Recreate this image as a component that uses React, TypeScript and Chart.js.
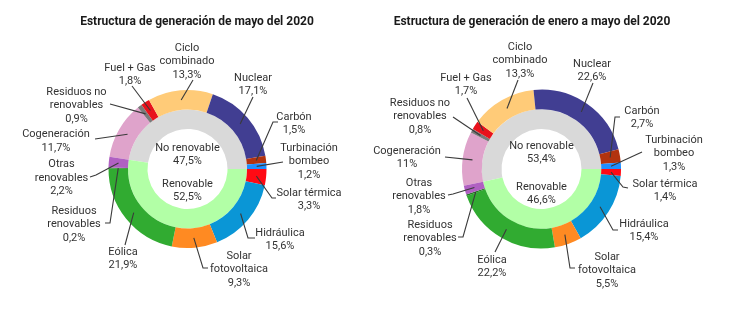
import React, { useEffect, useRef } from "react";
import { Chart, registerables } from "chart.js";

Chart.register(...registerables);

// ---------- data ----------
const categories = [
  "Cogeneración",
  "Residuos no renovables",
  "Fuel + Gas",
  "Ciclo combinado",
  "Nuclear",
  "Carbón",
  "Turbinación bombeo",
  "Solar térmica",
  "Hidráulica",
  "Solar fotovoltaica",
  "Eólica",
  "Residuos renovables",
  "Otras renovables",
];
const categoryLines = [
  ["Cogeneración"],
  ["Residuos no", "renovables"],
  ["Fuel + Gas"],
  ["Ciclo", "combinado"],
  ["Nuclear"],
  ["Carbón"],
  ["Turbinación", "bombeo"],
  ["Solar térmica"],
  ["Hidráulica"],
  ["Solar", "fotovoltaica"],
  ["Eólica"],
  ["Residuos", "renovables"],
  ["Otras", "renovables"],
];
const mayValues = [11.7, 0.9, 1.8, 13.3, 17.1, 1.5, 1.2, 3.3, 15.6, 9.3, 21.9, 0.2, 2.2];
const janMayValues = [11, 0.8, 1.7, 13.3, 22.6, 2.7, 1.3, 1.4, 15.4, 5.5, 22.2, 0.3, 1.8];
const groups = ["No renovable", "Renovable"];
const mayGroupValues = [47.5, 52.5];
const janMayGroupValues = [53.4, 46.6];
const titles = [
  "Estructura de generación de mayo del 2020",
  "Estructura de generación de enero a mayo del 2020",
];

// ---------- styles ----------
const categoryColors = [
  "#DFA3CB", "#7A7A7A", "#E8121C", "#FFCB78", "#413E92", "#B2330F", "#1E8EFF",
  "#FF0A14", "#0A96D6", "#FF8A22", "#31AB31", "#1F7A1F", "#B060C2",
];
const groupColors = ["#D9D9D9", "#B2FFA6"];

const W = 744;
const H = 326;
const PANEL_W = 372;

type LabelLayout = { text: [number, number]; path: [number, number][] };
type Panel = {
  offsetX: number;
  center: [number, number];
  radius: number;
  hole: number;
  titlePos: [number, number];
  innerOffsets: number[];
  values: number[];
  groupValues: number[];
  title: string;
  labels: LabelLayout[];
};

const panels: Panel[] = [
  {
    offsetX: 0,
    center: [187.5, 169],
    radius: 79,
    hole: 40,
    titlePos: [197, 22],
    innerOffsets: [-21, -8, 15, 28],
    values: mayValues,
    groupValues: mayGroupValues,
    title: titles[0],
    labels: [
      { text: [56, 134.5], path: [[95, 139]] },
      { text: [76.5, 92], path: [[110, 104]] },
      { text: [130, 68], path: [[132, 86]] },
      { text: [187, 48], path: [[193, 80]] },
      { text: [253, 78], path: [[253, 97]] },
      { text: [294, 117], path: [[273, 122], [278, 122]] },
      { text: [309, 148], path: [[283, 162]] },
      { text: [309, 193], path: [[272, 198], [276, 198]] },
      { text: [280, 233], path: [[248, 238], [255, 238]] },
      { text: [239, 256], path: [[203, 268], [208, 268]] },
      { text: [123, 252], path: [[125, 245]] },
      { text: [74, 211], path: [[110, 223], [105, 223]] },
      { text: [61.5, 164.5], path: [[96, 175], [90, 177]] },
    ],
  },
  {
    offsetX: 372,
    center: [541.5, 169],
    radius: 79.5,
    hole: 40,
    titlePos: [532, 22],
    innerOffsets: [-23, -10, 18, 31],
    values: janMayValues,
    groupValues: janMayGroupValues,
    title: titles[1],
    labels: [
      { text: [407, 151], path: [[445, 157]] },
      { text: [420, 103], path: [[453, 117]] },
      { text: [466, 78], path: [[467, 98]] },
      { text: [520, 47], path: [[518, 80]] },
      { text: [592, 64], path: [[593, 83]] },
      { text: [642, 111], path: [[615, 117], [620, 117]] },
      { text: [674, 140], path: [[642, 152]] },
      { text: [665, 184], path: [[623, 187], [628, 188]] },
      { text: [644, 224], path: [[613, 230], [618, 230]] },
      { text: [607, 257], path: [[570, 268], [575, 268]] },
      { text: [492, 260], path: [[495, 252]] },
      { text: [430, 225], path: [[463, 237], [458, 237]] },
      { text: [419, 183], path: [[453, 194], [448, 195]] },
    ],
  },
];

const FONT = "Roboto, 'Noto Sans', sans-serif";
const TEXT_COLOR = "#333333";
const LINE_H = 13.4;

function fmt(v: number): string {
  return String(v).replace(".", ",") + "%";
}

function drawAnnotations(chart: any, p: Panel) {
  const ctx: CanvasRenderingContext2D = chart.ctx;
  const ox = p.offsetX;
  ctx.save();
  ctx.textAlign = "center";
  ctx.textBaseline = "middle";

  // title
  ctx.font = `bold 12px ${FONT}`;
  ctx.fillStyle = "#1a1a1a";
  ctx.fillText(p.title, p.titlePos[0] - ox, p.titlePos[1]);

  // inner group labels
  const innerMeta = chart.getDatasetMeta(1);
  const a0 = innerMeta.data[0];
  const cx = a0.x;
  const cy = a0.y;
  ctx.font = `11px ${FONT}`;
  ctx.fillStyle = TEXT_COLOR;
  groups.forEach((g, j) => {
    ctx.fillText(g, cx, cy + p.innerOffsets[j * 2]);
    ctx.fillText(fmt(p.groupValues[j]), cx, cy + p.innerOffsets[j * 2 + 1]);
  });

  // outer labels with leader lines
  const meta = chart.getDatasetMeta(0);
  meta.data.forEach((arc: any, i: number) => {
    const lab = p.labels[i];
    const { x, y, startAngle, endAngle, innerRadius, outerRadius } = arc.getProps(
      ["x", "y", "startAngle", "endAngle", "innerRadius", "outerRadius"],
      true
    );
    const mid = (startAngle + endAngle) / 2;
    const r = (innerRadius + outerRadius) / 2;
    ctx.beginPath();
    ctx.moveTo(x + Math.cos(mid) * r, y + Math.sin(mid) * r);
    lab.path.forEach(([px, py]) => ctx.lineTo(px - ox, py));
    ctx.strokeStyle = "#3a3a3a";
    ctx.lineWidth = 1.1;
    ctx.stroke();

    const lines = [...categoryLines[i], fmt(p.values[i])];
    ctx.fillStyle = TEXT_COLOR;
    lines.forEach((t, k) => ctx.fillText(t, lab.text[0] - ox, lab.text[1] + k * LINE_H));
  });
  ctx.restore();
}

export default function App() {
  const ref0 = useRef<HTMLCanvasElement>(null);
  const ref1 = useRef<HTMLCanvasElement>(null);

  useEffect(() => {
    const refs = [ref0, ref1];
    const charts = panels.map((p, k) => {
      const canvas = refs[k].current as HTMLCanvasElement;
      const lx = p.center[0] - p.offsetX;
      const pad = {
        left: lx - p.radius,
        right: PANEL_W - (lx + p.radius),
        top: p.center[1] - p.radius,
        bottom: H - (p.center[1] + p.radius),
      };
      return new Chart(canvas, {
        type: "doughnut",
        data: {
          labels: categories,
          datasets: [
            {
              data: p.values,
              backgroundColor: categoryColors,
              borderWidth: 0,
            },
            {
              data: p.groupValues,
              backgroundColor: groupColors,
              borderWidth: 0,
            },
          ],
        },
        options: {
          responsive: false,
          animation: false,
          devicePixelRatio: 1,
          events: [],
          rotation: 90 - 3.6 * p.groupValues[0],
          cutout: `${(p.hole / p.radius) * 100}%`,
          layout: { padding: pad },
          plugins: {
            legend: { display: false },
            tooltip: { enabled: false },
            title: { display: false },
          },
        },
        plugins: [
          {
            id: "annotations" + k,
            afterDraw(chart: any) {
              drawAnnotations(chart, p);
            },
          },
        ],
      } as any);
    });
    return () => charts.forEach((c) => c.destroy());
  }, []);

  return (
    <div
      style={{
        position: "absolute",
        left: 0,
        top: 0,
        width: W,
        height: H,
        background: "#ffffff",
      }}
    >
      <canvas
        ref={ref0}
        width={PANEL_W}
        height={H}
        style={{ position: "absolute", left: 0, top: 0, width: PANEL_W, height: H }}
      />
      <canvas
        ref={ref1}
        width={PANEL_W}
        height={H}
        style={{ position: "absolute", left: PANEL_W, top: 0, width: PANEL_W, height: H }}
      />
    </div>
  );
}
